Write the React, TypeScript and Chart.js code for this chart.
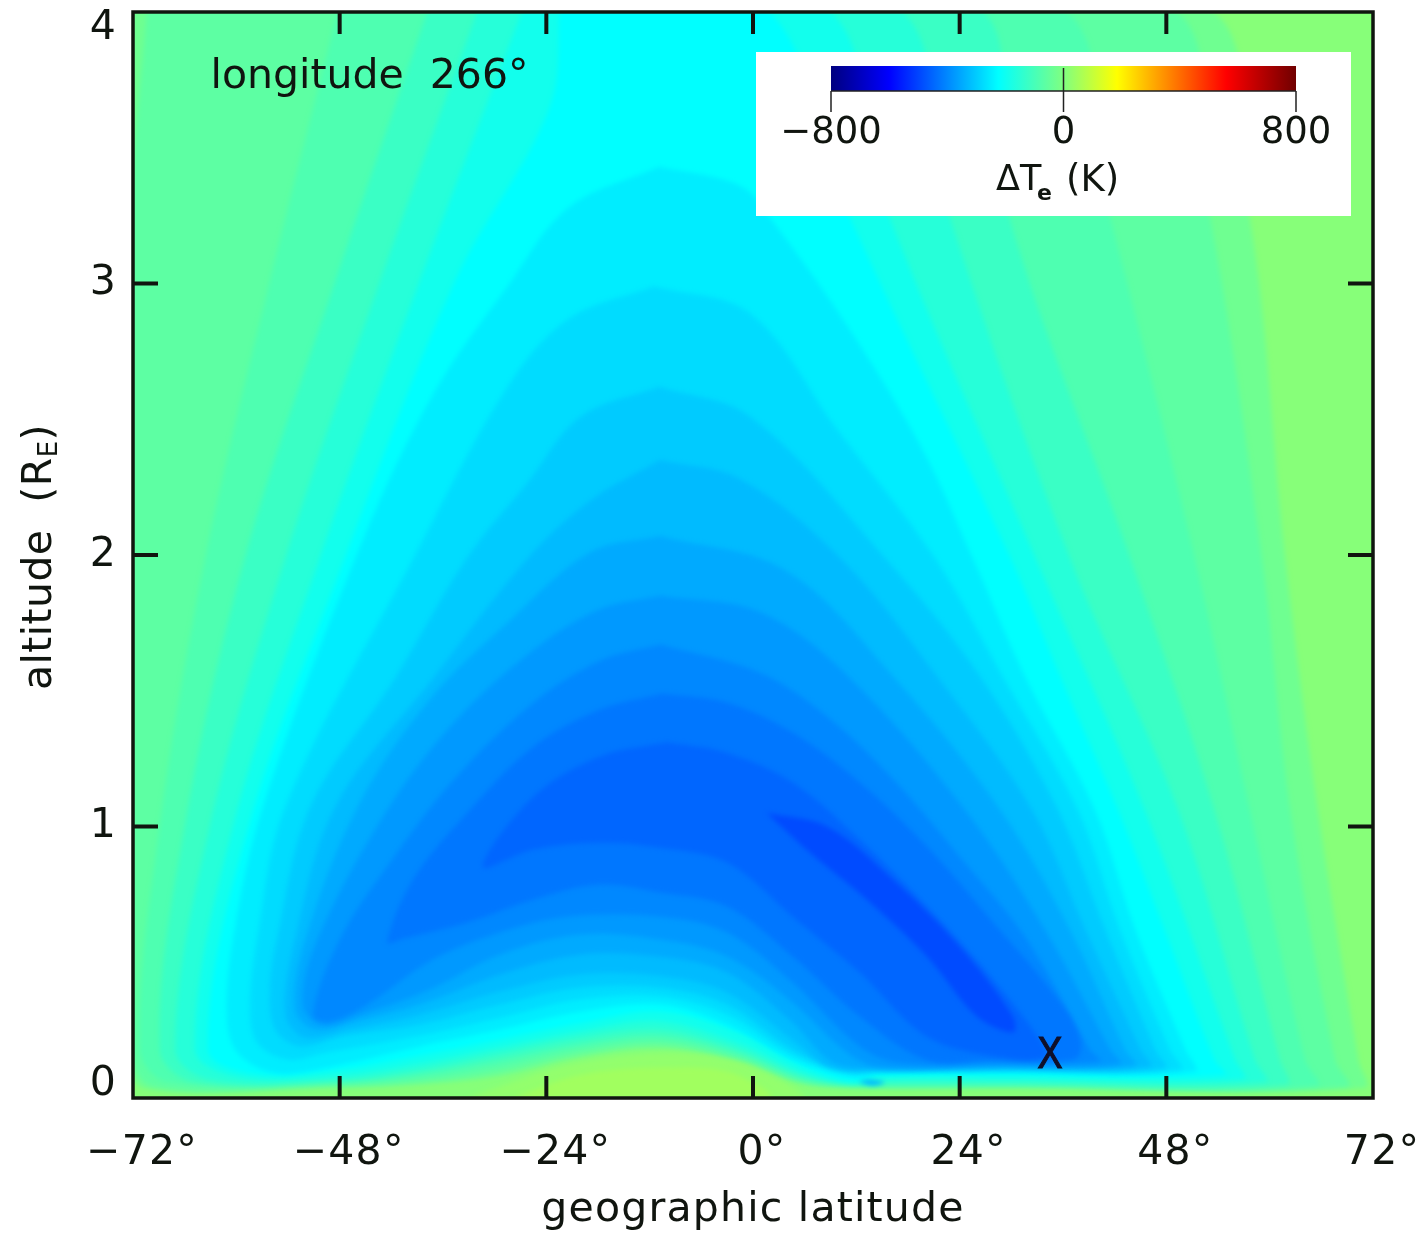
import React, { useEffect, useRef } from "react";
import { Chart, registerables } from "chart.js";

Chart.register(...registerables);

const latTicks = [-72, -48, -24, 0, 24, 48, 72];
const altTicks = [0, 1, 2, 3, 4];
const colorbarTicks = [-800, 0, 800];
const markerLat = 34.5;
const markerAlt = 0.155;
const noteLat = -63;
const noteAlt = 3.76;
const backgroundLevel = 10;

const rampStops: [number, string][] = [
  [0, "#00007f"], [0.125, "#0000ff"], [0.36, "#00ffff"], [0.5, "#80ff80"],
  [0.615, "#ffff00"], [0.85, "#ff0000"], [1, "#700000"],
];

type P = [number, number];

const levelM30: P[] = [[-72.6,4.03],[51.3,4.03],[57.7,3.24],[61.8,1.99],[65.6,1.06],[70.3,.14],[71,.038],[30,.038],[11.3,.038],[5.5,.053],[-1.5,.134],[-10.8,.182],[-20.1,.149],[-29.4,.08],[-38.7,.05],[-48,.038],[-71,.038],[-72.6,.5],[-72.6,2],[-72.6,3]];
const levelM62: P[] = [[-70.3,4.03],[47.1,4.03],[53.1,3.24],[59.1,1.99],[62.4,1.06],[67.6,.14],[69,.042],[30,.042],[11.3,.042],[5.5,.06],[-1.5,.142],[-10.8,.197],[-20.1,.164],[-29.4,.098],[-38.7,.06],[-48,.046],[-70,.046],[-72.6,.3],[-72.6,1],[-72.6,2],[-72.4,3.2]];
const levelM87: P[] = [[-48,4.03],[34.5,4.03],[41.5,3.24],[51.3,1.99],[57.7,1.06],[64.1,.14],[65.5,.046],[30,.046],[11.3,.046],[5.5,.068],[-1.5,.153],[-10.8,.212],[-20.1,.182],[-29.4,.12],[-38.7,.075],[-48,.053],[-68,.06],[-71.2,.18],[-68.9,1],[-63.6,1.99],[-56.1,3.01]];
const levelM122: P[] = [[-37.5,4.03],[25.2,4.03],[29.8,3.24],[43.8,1.99],[53.6,1.06],[61.2,.14],[62,.05],[30,.05],[14.7,.05],[11.3,.05],[5.5,.075],[-1.5,.164],[-10.8,.23],[-20.1,.2],[-29.4,.142],[-38.7,.09],[-48,.06],[-65,.06],[-68.9,.18],[-66,1],[-59,1.99],[-48.5,3.01]];
const levelM157: P[] = [[-31.7,4.03],[15.9,4.03],[22.9,3.24],[36.8,1.99],[49.4,1.06],[58.3,.14],[59.5,.06],[30,.06],[14.7,.06],[11.3,.053],[5.5,.087],[-1.5,.179],[-10.8,.252],[-20.1,.223],[-29.4,.164],[-38.7,.105],[-48,.068],[-63,.068],[-67.1,.18],[-63.1,1],[-54.3,1.99],[-43.3,3.01]];
const levelM192: P[] = [[-26.5,4.03],[7.8,4.03],[15.9,3.24],[32.8,1.99],[45.5,1.06],[56,.14],[57,.07],[30,.07],[14.7,.07],[11.3,.057],[5.5,.098],[-1.5,.2],[-10.8,.282],[-20.1,.245],[-29.4,.186],[-38.7,.127],[-48,.083],[-60,.08],[-64.8,.18],[-60.4,1],[-50.3,1.99],[-38.7,3.01]];
const levelM224: P[] = [[-22.4,4.03],[.8,4.03],[11.3,3.24],[29.9,1.99],[35.7,1.552],[42.4,1.062],[47.8,.62],[53.6,.14],[54.8,.085],[30,.085],[14.7,.085],[11.3,.064],[5.5,.12],[-1.5,.239],[-10.8,.318],[-20.1,.274],[-29.4,.215],[-38.7,.156],[-48,.105],[-58,.09],[-63.3,.18],[-58.6,1],[-47.4,1.99],[-34.6,3.01],[-23.6,3.65]];
const levelM250: P[] = [[-10.9,3.43],[-1.5,3.36],[2,3.24],[10.6,2.86],[19.5,2.4],[25.5,1.99],[31.6,1.552],[39.7,1.062],[44.4,.62],[50.2,.179],[51.3,.098],[28.7,.095],[14.7,.09],[11.3,.079],[4.6,.142],[-3,.27],[-10.8,.344],[-20.1,.318],[-29.4,.252],[-38.7,.19],[-50.6,.105],[-55.7,.094],[-59.9,.168],[-61.1,.3],[-60.4,.584],[-56.9,1.074],[-45.1,2.07],[-37,2.6],[-28.5,2.99],[-21.4,3.28]];
const levelM275: P[] = [[-11.5,2.99],[-.35,2.89],[9.6,2.47],[21.1,1.99],[29,1.552],[37.7,1.062],[42.6,.62],[48.4,.179],[49.6,.105],[28.7,.1],[14.7,.097],[11.3,.09],[4.6,.16],[-3,.307],[-10.8,.374],[-20.1,.363],[-29.4,.296],[-38.7,.23],[-49.5,.168],[-54.1,.142],[-57.6,.204],[-58.4,.337],[-57.6,.584],[-54.3,1.074],[-39.4,1.99],[-28.5,2.62],[-21.4,2.87]];
const levelM300: P[] = [[-10.9,2.62],[-.35,2.51],[15.3,1.99],[26.4,1.552],[35.4,1.062],[40.9,.62],[46.7,.179],[47.8,.11],[28.7,.105],[14.7,.1],[10.7,.105],[4.6,.179],[-3,.344],[-10.8,.407],[-20.1,.407],[-29.4,.344],[-38.7,.27],[-47.6,.227],[-52.6,.19],[-55.5,.252],[-56.1,.4],[-55.3,.584],[-51.4,1.074],[-41.7,1.54],[-33.2,1.99],[-26.1,2.27],[-20,2.51]];
const levelM325: P[] = [[-10.8,2.35],[-1.5,2.28],[10.1,1.99],[21.4,1.552],[32.4,1.062],[38.6,.62],[45,.179],[46.1,.115],[28.7,.11],[14.7,.105],[9,.112],[4.6,.215],[-3,.388],[-10.8,.449],[-20.1,.455],[-29.4,.392],[-38.7,.307],[-46.8,.252],[-52,.223],[-54.3,.307],[-53.2,.584],[-48.5,1.074],[-37.3,1.54],[-26.1,1.99],[-18.9,2.2]];
const levelM350: P[] = [[-10.8,2.07],[3.7,1.945],[16.3,1.552],[28.7,1.062],[36.8,.62],[43.2,.179],[44.4,.12],[28.7,.115],[14.7,.11],[9.3,.131],[4.6,.278],[-3,.462],[-10.8,.52],[-20.1,.528],[-29.4,.455],[-38.7,.344],[-46.2,.282],[-50.9,.252],[-53.2,.326],[-52,.584],[-45.9,1.074],[-37.5,1.47],[-28.2,1.76],[-18.9,2.01]];
const levelM375: P[] = [[-10.8,1.85],[.8,1.79],[11.1,1.552],[24.6,1.062],[33.9,.62],[41.5,.179],[42.6,.125],[28.7,.12],[14.7,.115],[10.9,.168],[4.6,.352],[-3,.521],[-10.8,.584],[-20.1,.602],[-29.4,.528],[-37.5,.4],[-45.6,.307],[-50,.27],[-52.3,.344],[-50.6,.584],[-42.7,1.05],[-34.8,1.38],[-25.5,1.65],[-17.8,1.8]];
const levelM400: P[] = [[-10.8,1.67],[.8,1.566],[8.6,1.405],[16.3,1.173],[24,.889],[31.8,.584],[39.1,.179],[40.3,.135],[28.7,.13],[17.1,.13],[12.4,.19],[4.6,.425],[-3,.61],[-10.8,.668],[-21.6,.668],[-29.4,.61],[-37.2,.51],[-44.8,.344],[-49.1,.282],[-51.1,.307],[-48,.584],[-42.5,.852],[-34.8,1.17],[-25.5,1.456],[-17.8,1.61]];
const levelM425: P[] = [[-10.5,1.49],[-3,1.456],[4.6,1.346],[12.4,1.162],[20.2,.926],[27.9,.646],[35.7,.352],[38,.215],[37.4,.145],[27.5,.14],[20.2,.14],[12.4,.3],[4.6,.521],[-3,.705],[-10.8,.757],[-17.8,.786],[-25.5,.731],[-33.2,.646],[-40.9,.584],[-42.5,.573],[-39.5,.804],[-33.2,1.05],[-25.5,1.294],[-17.8,1.43]];
const levelM450: P[] = [[-10,1.31],[-3,1.271],[4.6,1.162],[12.4,.952],[20.2,.705],[27.9,.436],[33.3,.215],[33.9,.15],[28.7,.15],[20.2,.226],[12.4,.462],[4.6,.668],[-3,.867],[-10.8,.922],[-17.8,.94],[-25.5,.915],[-31.4,.852],[-25.5,1.11],[-17.8,1.257]];
const levelM490: P[] = [[1.6,1.05],[8.6,1],[16.3,.804],[24,.558],[30.2,.3],[30.2,.241],[26,.3],[20.2,.521],[13.2,.731],[6.6,.904]];
const levelP28: P[] = [[-33.2,0],[-29.4,.042],[-21.6,.12],[-10.8,.164],[-3,.14],[2.8,.07],[5.8,0]];
const levelP48: P[] = [[-27.9,0],[-20.1,.085],[-10.8,.112],[-2.7,.095],[1.9,0]];
const spotM330: P[] = [[12.2,.06],[13.6,.068],[15.3,.057],[13.8,.046]];

const contourValues = [-30, -62, -87, -122, -157, -192, -224, -250, -275, -300, -325, -350, -375, -400, -425, -450, -490, 28, 48, -330];
const contourPaths = [levelM30, levelM62, levelM87, levelM122, levelM157, levelM192, levelM224, levelM250, levelM275, levelM300, levelM325, levelM350, levelM375, levelM400, levelM425, levelM450, levelM490, levelP28, levelP48, spotM330];

const hex = (s: string) => [1, 3, 5].map((i) => parseInt(s.slice(i, i + 2), 16));
function jet(value: number) {
  const t = (value + 800) / 1600;
  for (let i = 1; i < rampStops.length; i++) {
    if (t <= rampStops[i][0]) {
      const [a, ca] = rampStops[i - 1];
      const [b, cb] = rampStops[i];
      const f = (t - a) / (b - a);
      const A = hex(ca), B = hex(cb);
      return `rgb(${A.map((v, k) => Math.round(v + (B[k] - v) * f)).join(",")})`;
    }
  }
  return rampStops[rampStops.length - 1][1];
}

const FONT = '"DejaVu Sans"';
const INK = "#10150f";

const overlay = {
  id: "overlay",
  beforeDraw(chart: any) {
    chart.ctx.letterSpacing = "1.2px";
  },
  beforeDatasetsDraw(chart: any) {
    const { ctx, chartArea: a } = chart;
    ctx.save();
    ctx.fillStyle = jet(backgroundLevel);
    ctx.fillRect(a.left, a.top, a.width, a.height);
    ctx.filter = "blur(2.5px)";
  },
  afterDatasetsDraw(chart: any) {
    chart.ctx.filter = "none";
    chart.ctx.restore();
  },
  afterDraw(chart: any) {
    const { ctx, chartArea: a, scales } = chart;
    const { x, y } = scales;
    ctx.save();
    // inward ticks on all four sides
    ctx.strokeStyle = INK;
    ctx.lineWidth = 4;
    ctx.beginPath();
    latTicks.slice(1, -1).forEach((v) => {
      const p = x.getPixelForValue(v);
      ctx.moveTo(p, a.top); ctx.lineTo(p, a.top + 22);
      ctx.moveTo(p, a.bottom); ctx.lineTo(p, a.bottom - 22);
    });
    altTicks.slice(1, -1).forEach((v) => {
      const p = y.getPixelForValue(v);
      ctx.moveTo(a.left, p); ctx.lineTo(a.left + 25, p);
      ctx.moveTo(a.right, p); ctx.lineTo(a.right - 25, p);
    });
    ctx.stroke();
    ctx.lineWidth = 3.5;
    ctx.strokeRect(a.left, a.top, a.width, a.height);

    // annotation and marker
    ctx.fillStyle = INK;
    ctx.textBaseline = "middle";
    ctx.textAlign = "left";
    ctx.letterSpacing = "0px";
    ctx.font = `41px ${FONT}`;
    ctx.fillText("longitude  266°", x.getPixelForValue(noteLat), y.getPixelForValue(noteAlt));
    ctx.save();
    ctx.translate(x.getPixelForValue(markerLat), y.getPixelForValue(markerAlt));
    ctx.scale(0.85, 1);
    ctx.textAlign = "center";
    ctx.font = `44px "Liberation Sans"`;
    ctx.fillStyle = "#10102a";
    ctx.strokeStyle = "#10102a";
    ctx.lineWidth = 1.2;
    ctx.fillText("X", 0, 0);
    ctx.strokeText("X", 0, 0);
    ctx.restore();

    // y axis title with subscript
    ctx.save();
    ctx.translate(40, 690);
    ctx.rotate(-Math.PI / 2);
    ctx.fillStyle = INK;
    ctx.textAlign = "left";
    ctx.letterSpacing = "0.4px";
    ctx.font = `41px ${FONT}`;
    const main = "altitude  (R";
    ctx.fillText(main, 0, 0);
    let off = ctx.measureText(main).width;
    ctx.font = `26px ${FONT}`;
    ctx.fillText("E", off, 10);
    off += ctx.measureText("E").width;
    ctx.font = `41px ${FONT}`;
    ctx.fillText(")", off, 0);
    ctx.restore();

    // colour bar inset
    ctx.fillStyle = "#ffffff";
    ctx.fillRect(756, 52, 595, 164);
    const bx = 831, bw = 465, by = 66, bh = 25;
    const g = ctx.createLinearGradient(bx, 0, bx + bw, 0);
    rampStops.forEach(([s, c]) => g.addColorStop(s, c));
    ctx.fillStyle = g;
    ctx.fillRect(bx, by, bw, bh);
    ctx.strokeStyle = "#222";
    ctx.lineWidth = 1.5;
    ctx.beginPath();
    ctx.moveTo(bx, by + bh); ctx.lineTo(bx + bw, by + bh);
    colorbarTicks.forEach((v) => {
      const p = bx + ((v + 800) / 1600) * bw;
      ctx.moveTo(p, v === 0 ? by + 2 : by + bh); ctx.lineTo(p, 112);
    });
    ctx.stroke();
    ctx.fillStyle = INK;
    ctx.font = `37px ${FONT}`;
    ctx.letterSpacing = "0px";
    ctx.textAlign = "center";
    colorbarTicks.forEach((v) => {
      const p = bx + ((v + 800) / 1600) * bw;
      ctx.fillText(v < 0 ? `\u2212${-v}` : `${v}`, p, 133);
    });
    ctx.textAlign = "left";
    ctx.font = `35px ${FONT}`;
    ctx.fillText("\u0394T", 996, 181);
    ctx.font = `bold 22px ${FONT}`;
    ctx.fillText("e", 1037, 194);
    ctx.font = `37px ${FONT}`;
    ctx.fillText("(K)", 1066, 181);
    ctx.restore();
    ctx.letterSpacing = "0px";
  },
};

function clearPadding(s: any) {
  s.paddingLeft = 0;
  s.paddingRight = 0;
  s.paddingTop = 0;
  s.paddingBottom = 0;
}

export default function App() {
  const ref = useRef<HTMLCanvasElement>(null);
  useEffect(() => {
    const n = contourPaths.length;
    const chart = new Chart(ref.current as HTMLCanvasElement, {
      type: "scatter",
      data: {
        datasets: contourPaths.map((path, i) => ({
          label: `${contourValues[i]} K`,
          data: [...path, path[0]].map(([x, y]) => ({ x, y })),
          showLine: true,
          fill: "shape",
          backgroundColor: jet(contourValues[i]),
          borderColor: jet(contourValues[i]),
          borderWidth: 0,
          pointRadius: 0,
          tension: 0.35,
          order: n - i,
        })),
      } as any,
      plugins: [overlay],
      options: {
        responsive: false,
        animation: false,
        events: [],
        layout: { padding: { top: 12, right: 48, left: 0, bottom: 0 } },
        plugins: { legend: { display: false }, tooltip: { enabled: false } },
        scales: {
          x: {
            type: "linear",
            min: -72,
            max: 72,
            afterFit(s: any) { s.height = 142; clearPadding(s); },
            afterBuildTicks(s: any) { s.ticks = latTicks.map((value) => ({ value })); },
            grid: { display: false },
            border: { display: false },
            title: {
              display: true,
              text: "geographic latitude",
              color: INK,
              font: { family: FONT, size: 41 },
              padding: { top: 0, bottom: 5 },
            },
            ticks: {
              autoSkip: false,
              maxRotation: 0,
              color: INK,
              padding: 23,
              labelOffset: 9,
              font: { family: FONT, size: 41 },
              callback: (v: any) => `${v < 0 ? "\u2212" + -v : v}°`,
            },
          },
          y: {
            type: "linear",
            min: 0,
            max: 4,
            afterFit(s: any) { s.width = 133; clearPadding(s); },
            afterBuildTicks(s: any) { s.ticks = altTicks.map((value) => ({ value })); },
            grid: { display: false },
            border: { display: false },
            ticks: {
              autoSkip: false,
              color: INK,
              padding: 8,
              font: (c: any) => ({ family: FONT, size: 41, lineHeight: c.tick && c.tick.value === 0 ? 0.65 : 0.78 }),
              callback: (v: any) => (v === 0 ? ["0", ""] : v === 4 ? ["", "4"] : `${v}`),
            },
          },
        },
      } as any,
    });
    return () => chart.destroy();
  }, []);
  return (
    <canvas
      ref={ref}
      width={1421}
      height={1240}
      style={{ position: "fixed", left: 0, top: 0, display: "block" }}
    />
  );
}
